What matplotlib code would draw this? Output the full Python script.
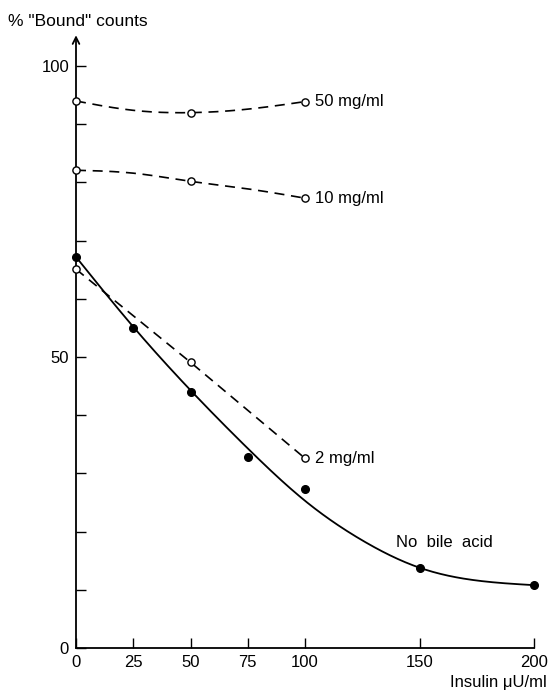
import numpy as np
import matplotlib
matplotlib.use("Agg")
import matplotlib.pyplot as plt

plt.rcParams['font.family'] = ['Liberation Sans', 'DejaVu Sans']

# ---- data ----
insulin_open = [0, 50, 100]
bile_50 = [94.0, 92.0, 93.9]
bile_10 = [82.1, 80.2, 77.3]
bile_2 = [65.1, 49.1, 32.6]

insulin_none = [0, 25, 50, 75, 100, 150, 200]
no_bile = [67.2, 55.0, 44.0, 32.8, 27.3, 13.7, 10.8]

# smooth drawn curves (shape)
curve50_x = [0, 25, 50, 75, 100]
curve50_y = [94.0, 92.4, 92.0, 92.6, 93.9]
curve10_x = [0, 25, 50, 75, 100]
curve10_y = [82.1, 81.6, 80.2, 78.9, 77.3]
curve_none_x = [0, 25, 50, 75, 100, 125, 150, 175, 200]
curve_none_y = [67.2, 55.2, 44.3, 34.3, 25.3, 18.5, 13.8, 11.6, 10.8]

xticks = [0, 25, 50, 75, 100, 150, 200]
yticks = list(range(0, 101, 10))
ytick_labels = ['0' if v == 0 else ('50' if v == 50 else ('100' if v == 100 else '')) for v in yticks]


def natural_spline(x, y, n=300):
    x = np.asarray(x, float)
    y = np.asarray(y, float)
    m = len(x)
    h = np.diff(x)
    A = np.zeros((m, m))
    b = np.zeros(m)
    A[0, 0] = 1
    A[-1, -1] = 1
    for i in range(1, m - 1):
        A[i, i - 1] = h[i - 1]
        A[i, i] = 2 * (h[i - 1] + h[i])
        A[i, i + 1] = h[i]
        b[i] = 3 * ((y[i + 1] - y[i]) / h[i] - (y[i] - y[i - 1]) / h[i - 1])
    c = np.linalg.solve(A, b)
    xs = np.linspace(x[0], x[-1], n)
    ys = np.empty_like(xs)
    for k, xv in enumerate(xs):
        i = min(np.searchsorted(x, xv, side='right') - 1, m - 2)
        i = max(i, 0)
        dx = xv - x[i]
        bi = (y[i + 1] - y[i]) / h[i] - h[i] * (2 * c[i] + c[i + 1]) / 3
        di = (c[i + 1] - c[i]) / (3 * h[i])
        ys[k] = y[i] + bi * dx + c[i] * dx ** 2 + di * dx ** 3
    return xs, ys


W, H = 548, 692
fig = plt.figure(figsize=(W / 100, H / 100), dpi=100)
ax = fig.add_axes([76 / W, (H - 648) / H, (534 - 76) / W, (648 - 37) / H])
ax.set_xlim(0, 200)
ax.set_ylim(0, 105)

dash = (6, 4)
lw = 1.2

# dashed curves
xs, ys = natural_spline(curve50_x, curve50_y)
ax.plot(xs, ys, color='black', lw=lw, ls=(0, dash), clip_on=False)
xs, ys = natural_spline(curve10_x, curve10_y)
ax.plot(xs, ys, color='black', lw=lw, ls=(0, dash), clip_on=False)
ax.plot(insulin_open, bile_2, color='black', lw=lw, ls=(0, dash), clip_on=False)

# solid curve
xs, ys = natural_spline(curve_none_x, curve_none_y)
ax.plot(xs, ys, color='black', lw=1.3, clip_on=False)

# markers
for series in (bile_50, bile_10, bile_2):
    ax.plot(insulin_open, series, ls='none', marker='o', ms=5.2, mfc='white',
            mec='black', mew=1.0, clip_on=False, zorder=5)
ax.plot(insulin_none, no_bile, ls='none', marker='o', ms=5.5, mfc='black',
        mec='black', clip_on=False, zorder=6)

# labels
fs = 12
ax.text(104.5, bile_50[-1], '50 mg/ml', fontsize=fs, va='center', ha='left')
ax.text(104.5, bile_10[-1], '10 mg/ml', fontsize=fs, va='center', ha='left')
ax.text(104.5, bile_2[-1], '2 mg/ml', fontsize=fs, va='center', ha='left')
ax.text(161, 18.2, 'No  bile  acid', fontsize=fs, va='center', ha='center')

# axes styling
for s in ('top', 'right', 'left'):
    ax.spines[s].set_visible(False)
ax.spines['bottom'].set_linewidth(1.3)
ax.annotate('', xy=(0, 105.3), xytext=(0, 0), xycoords='data',
            arrowprops=dict(arrowstyle='->', lw=1.3, color='black',
                            shrinkA=0, shrinkB=0, mutation_scale=12),
            annotation_clip=False)

ax.set_yticks(yticks)
ax.set_yticklabels(ytick_labels)
ax.set_xticks(xticks)
ax.set_xticklabels([str(v) for v in xticks])
ax.tick_params(axis='y', direction='in', length=7, width=1.0, pad=5, labelsize=fs)
ax.tick_params(axis='x', direction='in', length=7, width=1.0, pad=5, labelsize=fs)

fig.text(8 / W, 1 - 22 / H, '% "Bound" counts', fontsize=12.5, ha='left', va='center')
fig.text(547 / W, 1 - 682 / H, 'Insulin \u03bcU/ml', fontsize=fs, ha='right', va='center')

fig.savefig('out.png', dpi=100)
